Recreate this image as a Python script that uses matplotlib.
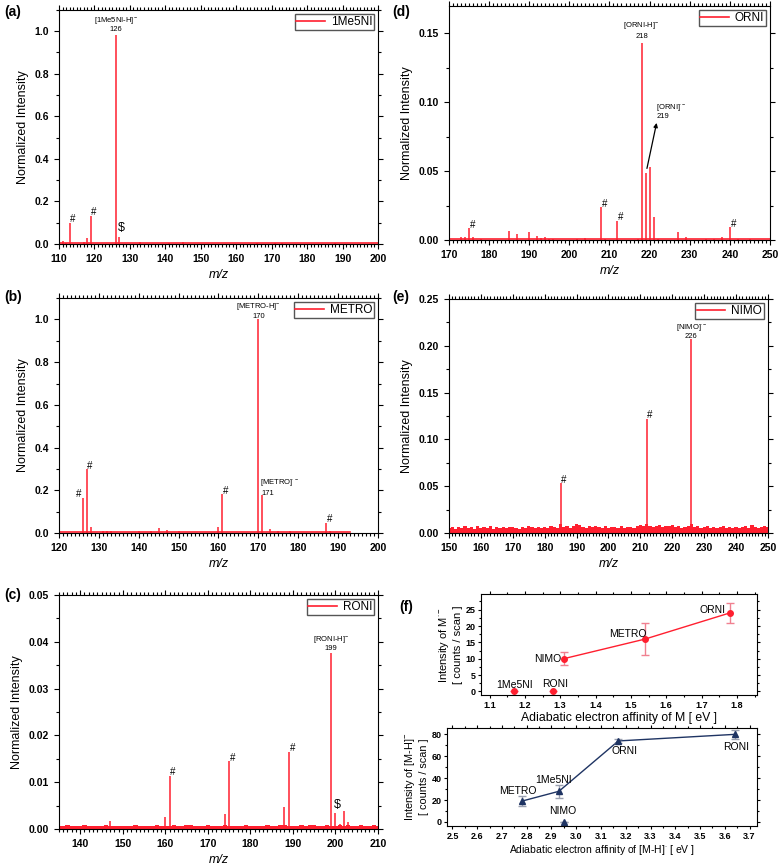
import numpy as np
import matplotlib
matplotlib.use("Agg")
import matplotlib.pyplot as plt
from matplotlib.ticker import MultipleLocator

plt.rcParams['font.family'] = ['Liberation Sans', 'DejaVu Sans']
plt.rcParams['mathtext.fontset'] = 'custom'
plt.rcParams['mathtext.rm'] = 'Liberation Sans'

RED = '#ff1f2f'
NAVY = '#1f3463'

# ---------------------------------------------------------------- data
# (a) 1Me5NI
mz_a = [111, 112, 113, 117, 118, 119, 126, 127, 133, 141, 145, 166, 171, 173, 188]
int_a = [0.012, 0.005, 0.10, 0.008, 0.030, 0.13, 0.98, 0.035, 0.007, 0.004, 0.007, 0.005, 0.004, 0.005, 0.004]
base_a = 0.003

# (b) METRO
mz_b = [126, 127, 128, 131, 132, 133, 140, 143, 145, 147, 150, 160, 161, 170, 171, 173, 175, 178, 187, 188]
int_b = [0.165, 0.30, 0.03, 0.008, 0.010, 0.009, 0.011, 0.008, 0.022, 0.012, 0.009, 0.030, 0.185, 1.0, 0.18, 0.020, 0.009, 0.008, 0.048, 0.008]
base_b = 0.005
end_b = 193

# (c) RONI
mz_c = [135, 147, 160, 161, 174, 175, 188, 189, 199, 200, 201, 202, 203]
int_c = [0.005, 0.0017, 0.0025, 0.0114, 0.0032, 0.0145, 0.0047, 0.0165, 0.0375, 0.0035, 0.0010, 0.0038, 0.0016]
noise_c = [7, 6, 8, 7, 6, 7, 8, 6, 7, 6,    # 135-144
           7, 8, 7, 6, 7, 7, 6, 7, 8, 6,    # 145-154
           7, 6, 7, 8, 7, 6, 7, 9, 7, 6,    # 155-164
           8, 9, 7, 6, 7, 8, 7, 6, 7, 8,    # 165-174
           7, 6, 7, 6, 8, 7, 7, 6, 7, 8,    # 175-184
           7, 6, 8, 9, 7, 6, 7, 8, 7, 9,    # 185-194
           8, 7, 6, 8, 7, 6, 9, 7, 8, 6,    # 195-204
           7, 8, 7, 6, 8, 7]                # 205-210

# (d) ORNI
mz_d = [173, 174, 175, 176, 178, 185, 187, 190, 192, 193, 194, 195, 196, 202, 204, 208, 209, 212,
        217, 218, 219, 220, 221, 222, 227, 229, 234, 236, 238, 240, 242, 245]
int_d = [0.002, 0.002, 0.0085, 0.002, 0.001, 0.0062, 0.0045, 0.0058, 0.003, 0.0015, 0.0025, 0.001, 0.001, 0.001, 0.0015, 0.024, 0.001, 0.014,
         0.001, 0.143, 0.049, 0.053, 0.017, 0.001, 0.006, 0.0025, 0.001, 0.001, 0.0025, 0.0095, 0.001, 0.001]
base_d = 0.0008

# (e) NIMO
mz_e = [185, 212, 226]
int_e = [0.053, 0.122, 0.207]
noise_e = [5, 6, 4, 6, 5, 7, 5, 6, 4, 8,    # 150-159
           5, 6, 5, 7, 4, 6, 5, 6, 5, 6,    # 160-169
           6, 5, 4, 6, 5, 7, 6, 5, 6, 5,    # 170-179
           6, 5, 7, 6, 5, 10, 6, 7, 5, 8,   # 180-189
           10, 9, 6, 5, 7, 6, 8, 6, 5, 7,   # 190-199
           5, 6, 6, 5, 7, 5, 6, 6, 5, 8,    # 200-209
           9, 7, 10, 8, 6, 7, 9, 6, 8, 7,   # 210-219
           9, 6, 7, 5, 6, 7, 10, 6, 7, 5,   # 220-229
           6, 7, 5, 6, 5, 6, 7, 5, 6, 5,    # 230-239
           6, 5, 6, 7, 5, 9, 6, 5, 6, 7,    # 240-249
           6]                               # 250

# (f) electron affinity vs intensity
names_m = ['1Me5NI', 'RONI', 'NIMO', 'METRO', 'ORNI']
ea_m = [1.17, 1.28, 1.31, 1.54, 1.78]
int_m = [0, 0, 10, 16, 24]
err_m = [0, 0, 2, 5, 3]

names_mh = ['METRO', '1Me5NI', 'NIMO', 'ORNI', 'RONI']
ea_mh = [2.78, 2.93, 2.95, 3.17, 3.64]
int_mh = [19, 28, 0, 74, 80]
err_mh = [4.6, 6, 0, 2, 4]

# ---------------------------------------------------------------- figure
fig = plt.figure(figsize=(7.8, 8.67), dpi=100)


def style_spec(ax, xlim, ylim, xmaj, ymaj, yfmt, legend):
    ax.set_xlim(*xlim)
    ax.set_ylim(*ylim)
    ax.xaxis.set_major_locator(MultipleLocator(xmaj))
    ax.xaxis.set_minor_locator(MultipleLocator(1))
    ax.yaxis.set_major_locator(MultipleLocator(ymaj))
    ax.yaxis.set_minor_locator(MultipleLocator(ymaj / 2))
    ax.yaxis.set_major_formatter(plt.FormatStrFormatter(yfmt))
    ax.tick_params(which='both', direction='out', top=True, right=True, labelsize=7.5, width=0.8)
    ax.tick_params(which='major', length=3.5)
    ax.tick_params(which='minor', length=2)
    for t in ax.get_xticklabels() + ax.get_yticklabels():
        t.set_fontweight('bold')
    ax.set_xlabel('m/z', style='italic', fontsize=9)
    ax.set_ylabel('Normalized Intensity', fontsize=9)
    ax.legend([plt.Line2D([], [], color=RED, lw=1.2)], [legend], loc='upper right',
              fancybox=False, edgecolor='#555555', fontsize=8.5, handlelength=2.4,
              handletextpad=0.5, borderpad=0.15, borderaxespad=0.35, framealpha=1)


def sticks(ax, x, y, lw=1.1):
    ax.vlines(x, 0, y, color=RED, lw=lw)


lab_kw = dict(fontsize=5.5, ha='center', va='center')

# (a)
ax_a = fig.add_axes([0.0756, 0.7186, 0.409, 0.270])
ax_a.plot([110, 200], [base_a, base_a], color=RED, lw=1.2)
sticks(ax_a, mz_a, int_a)
style_spec(ax_a, (110, 200), (0, 1.1), 10, 0.2, '%.1f', '1Me5NI')
ax_a.text(126, 1.048, '[1Me5NI-H]$^{-}$', **lab_kw)
ax_a.text(126, 1.006, '126', **lab_kw)
ax_a.text(113.1, 0.105, '#', fontsize=7)
ax_a.text(119.1, 0.135, '#', fontsize=7)
ax_a.text(126.6, 0.06, '$', fontsize=9)

# (b)
ax_b = fig.add_axes([0.0756, 0.3852, 0.409, 0.271])
ax_b.plot([120, end_b], [base_b, base_b], color=RED, lw=1.2)
sticks(ax_b, mz_b, int_b)
style_spec(ax_b, (120, 200), (0, 1.1), 10, 0.2, '%.1f', 'METRO')
ax_b.text(170, 1.056, '[METRO-H]$^{-}$', **lab_kw)
ax_b.text(170, 1.016, '170', **lab_kw)
ax_b.text(170.4, 0.231, '[METRO]$^{\\cdot-}$', fontsize=5.5, va='center')
ax_b.text(170.7, 0.186, '171', fontsize=5.5, va='center')
ax_b.text(124.3, 0.17, '#', fontsize=7)
ax_b.text(127.1, 0.3, '#', fontsize=7)
ax_b.text(161.1, 0.185, '#', fontsize=7)
ax_b.text(187.1, 0.05, '#', fontsize=7)

# (c)
ax_c = fig.add_axes([0.0756, 0.0438, 0.409, 0.270])
x_c = np.arange(135, 135 + len(noise_c))
ax_c.fill_between(x_c, 0, np.array(noise_c) * 1e-4, step='mid', color=RED, lw=0)
sticks(ax_c, mz_c, int_c)
style_spec(ax_c, (135, 210), (0, 0.05), 10, 0.01, '%.2f', 'RONI')
ax_c.text(199, 0.0403, '[RONI-H]$^{-}$', **lab_kw)
ax_c.text(199, 0.0386, '199', **lab_kw)
ax_c.text(161.2, 0.0115, '#', fontsize=7)
ax_c.text(175.2, 0.0146, '#', fontsize=7)
ax_c.text(189.2, 0.0166, '#', fontsize=7)
ax_c.text(199.6, 0.0045, '$', fontsize=9)

# (d)
ax_d = fig.add_axes([0.5756, 0.7232, 0.4115, 0.270])
ax_d.plot([170, 250], [base_d, base_d], color=RED, lw=1.2)
sticks(ax_d, mz_d, int_d)
style_spec(ax_d, (170, 250), (0, 0.17), 10, 0.05, '%.2f', 'ORNI')
ax_d.text(218, 0.155, '[ORNI-H]$^{-}$', **lab_kw)
ax_d.text(218, 0.148, '218', **lab_kw)
ax_d.text(221.6, 0.096, '[ORNI]$^{\\cdot-}$', fontsize=5.5, va='center')
ax_d.text(221.8, 0.0895, '219', fontsize=5.5, va='center')
ax_d.annotate('', xy=(221.9, 0.087), xytext=(219.2, 0.050),
              arrowprops=dict(arrowstyle='-|>', color='black', lw=0.9, mutation_scale=6))
ax_d.text(175.2, 0.0087, '#', fontsize=7)
ax_d.text(208.2, 0.0243, '#', fontsize=7)
ax_d.text(212.2, 0.0143, '#', fontsize=7)
ax_d.text(240.2, 0.0097, '#', fontsize=7)

# (e)
ax_e = fig.add_axes([0.5756, 0.3852, 0.409, 0.270])
x_e = np.arange(150, 150 + len(noise_e))
ax_e.fill_between(x_e, 0, np.array(noise_e) * 1e-3, step='mid', color=RED, lw=0)
sticks(ax_e, mz_e, int_e)
style_spec(ax_e, (150, 250), (0, 0.25), 10, 0.05, '%.2f', 'NIMO')
ax_e.text(226, 0.2187, '[NIMO]$^{\\cdot-}$', **lab_kw)
ax_e.text(226, 0.2095, '226', **lab_kw)
ax_e.text(185.2, 0.0535, '#', fontsize=7)
ax_e.text(212.2, 0.1225, '#', fontsize=7)

# (f) top
ax_f1 = fig.add_axes([0.6167, 0.1984, 0.3538, 0.1165])
ax_f1.plot(ea_m[2:], int_m[2:], color=RED, lw=1)
ax_f1.errorbar(ea_m, int_m, yerr=err_m, fmt='o', color=RED, ms=4,
               ecolor='#f08090', elinewidth=1, capsize=3, capthick=1)
ax_f1.set_xlim(1.076, 1.857)
ax_f1.set_ylim(-1.1, 29.8)
ax_f1.xaxis.set_major_locator(MultipleLocator(0.1))
ax_f1.xaxis.set_minor_locator(MultipleLocator(0.05))
ax_f1.yaxis.set_major_locator(MultipleLocator(5))
ax_f1.yaxis.set_minor_locator(MultipleLocator(2.5))
ax_f1.set_xlabel('Adiabatic electron affinity of M [ eV ]', fontsize=8.8, labelpad=2)
ax_f1.set_ylabel('Intensity of M$^{\\cdot-}$\n[ counts / scan ]', fontsize=8, labelpad=2)
offs_m = [(0.0, 2.0), (0.006, 2.2), (-0.045, 0.0), (-0.047, 1.5), (-0.048, 0.9)]
for nm, x, y, (dx, dy) in zip(names_m, ea_m, int_m, offs_m):
    ax_f1.text(x + dx, y + dy, nm, fontsize=7.5, ha='center', va='center')

# (f) bottom
ax_f2 = fig.add_axes([0.5731, 0.0473, 0.3974, 0.113])
line_idx = [0, 1, 3, 4]
ax_f2.plot([ea_mh[i] for i in line_idx], [int_mh[i] for i in line_idx], color=NAVY, lw=1)
ax_f2.errorbar(ea_mh, int_mh, yerr=err_mh, fmt='^', color=NAVY, ms=4,
               ecolor='#9aa0b0', elinewidth=1, capsize=3, capthick=1)
ax_f2.set_xlim(2.478, 3.73)
ax_f2.set_ylim(-3.7, 85.8)
ax_f2.xaxis.set_major_locator(MultipleLocator(0.1))
ax_f2.xaxis.set_minor_locator(MultipleLocator(0.05))
ax_f2.yaxis.set_major_locator(MultipleLocator(20))
ax_f2.yaxis.set_minor_locator(MultipleLocator(10))
ax_f2.set_xlabel('Adiabatic electron affinity of [M-H]$^{\\cdot}$ [ eV ]', fontsize=7.5, labelpad=2)
ax_f2.set_ylabel('Intensity of [M-H]$^{-}$\n[ counts / scan ]', fontsize=7.8, labelpad=2)
offs_mh = [(-0.014, 9.5), (-0.02, 10.1), (-0.005, 9.8), (0.023, -9.5), (0.004, -11.6)]
for nm, x, y, (dx, dy) in zip(names_mh, ea_mh, int_mh, offs_mh):
    ax_f2.text(x + dx, y + dy, nm, fontsize=7.5, ha='center', va='center')

for ax in (ax_f1, ax_f2):
    ax.tick_params(which='both', direction='out', top=True, right=True, labelsize=6.5, width=0.8, pad=1.5)
    ax.tick_params(which='major', length=2.5)
    ax.tick_params(which='minor', length=1.5)
    ax.xaxis.set_major_formatter(plt.FormatStrFormatter('%.1f'))
    for t in ax.get_xticklabels() + ax.get_yticklabels():
        t.set_fontweight('bold')

# panel letters
for lbl, x, y in [('(a)', 0.006, 0.986), ('(b)', 0.006, 0.657), ('(c)', 0.006, 0.314),
                  ('(d)', 0.503, 0.986), ('(e)', 0.503, 0.657), ('(f)', 0.512, 0.300)]:
    fig.text(x, y, lbl, fontsize=10, fontweight='bold', va='center')

fig.savefig('out.png', dpi=100)
